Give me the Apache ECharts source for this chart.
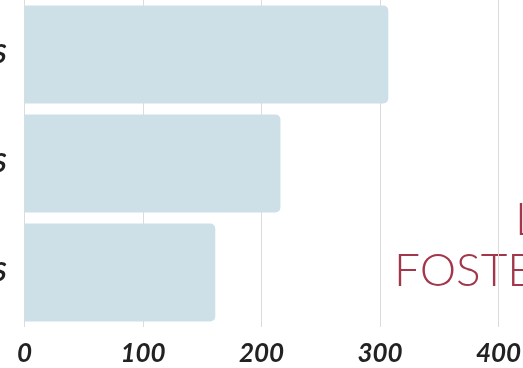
<!DOCTYPE html>
<html>
<head>
<meta charset="utf-8">
<script src="https://cdn.jsdelivr.net/npm/echarts@6/dist/echarts.min.js"></script>
<style>
  html, body { margin: 0; padding: 0; background: #ffffff; }
  #chart { width: 523px; height: 368px; }
</style>
</head>
<body>
<div id="chart"></div>
<script>
// Categories (top to bottom) and their counts
const categories = ['DOGS', 'CATS', 'BIRDS'];
const counts = [307, 216, 161];
// Value axis ticks
const axisMin = 0;
const axisMax = 400;
const axisStep = 100;
// Heading lines
const headingLines = ['L', 'FOSTE'];

const labelFont = {
  fontFamily: 'Lato',
  fontWeight: 'bold',
  fontStyle: 'italic',
  fontSize: 26,
  color: '#222222'
};

const chart = echarts.init(document.getElementById('chart'), null, { renderer: 'canvas' });

chart.setOption({
  animation: false,
  backgroundColor: '#ffffff',
  grid: {
    left: 24.5, right: 24.5, top: 0, bottom: 41,
    containLabel: false,
    outerBoundsMode: 'none'
  },
  xAxis: {
    type: 'value',
    min: axisMin,
    max: axisMax,
    interval: axisStep,
    axisLine: { show: false },
    axisTick: { show: false },
    splitLine: { show: true, lineStyle: { color: '#dcdcdc', width: 1 } },
    axisLabel: Object.assign({ margin: 14 }, labelFont)
  },
  yAxis: {
    type: 'category',
    data: categories,
    inverse: true,
    axisLine: { show: false },
    axisTick: { show: false },
    splitLine: { show: false },
    axisLabel: Object.assign({ margin: 18 }, labelFont)
  },
  graphic: [
    {
      type: 'text',
      z: -10,
      x: 515,
      y: 197,
      style: {
        text: headingLines[0],
        font: '300 46px Lato',
        fill: '#a3364b',
        textAlign: 'left',
        textVerticalAlign: 'top'
      }
    },
    {
      type: 'text',
      z: -10,
      x: 394,
      y: 248,
      style: {
        text: headingLines[1],
        font: '300 46px Lato',
        fill: '#a3364b',
        textAlign: 'left',
        textVerticalAlign: 'top'
      }
    }
  ],
  series: [
    {
      type: 'bar',
      data: counts,
      barCategoryGap: '10%',
      itemStyle: { color: '#cddfe7', borderRadius: [0, 5, 5, 0] },
      z: 2
    }
  ]
});
</script>
</body>
</html>
